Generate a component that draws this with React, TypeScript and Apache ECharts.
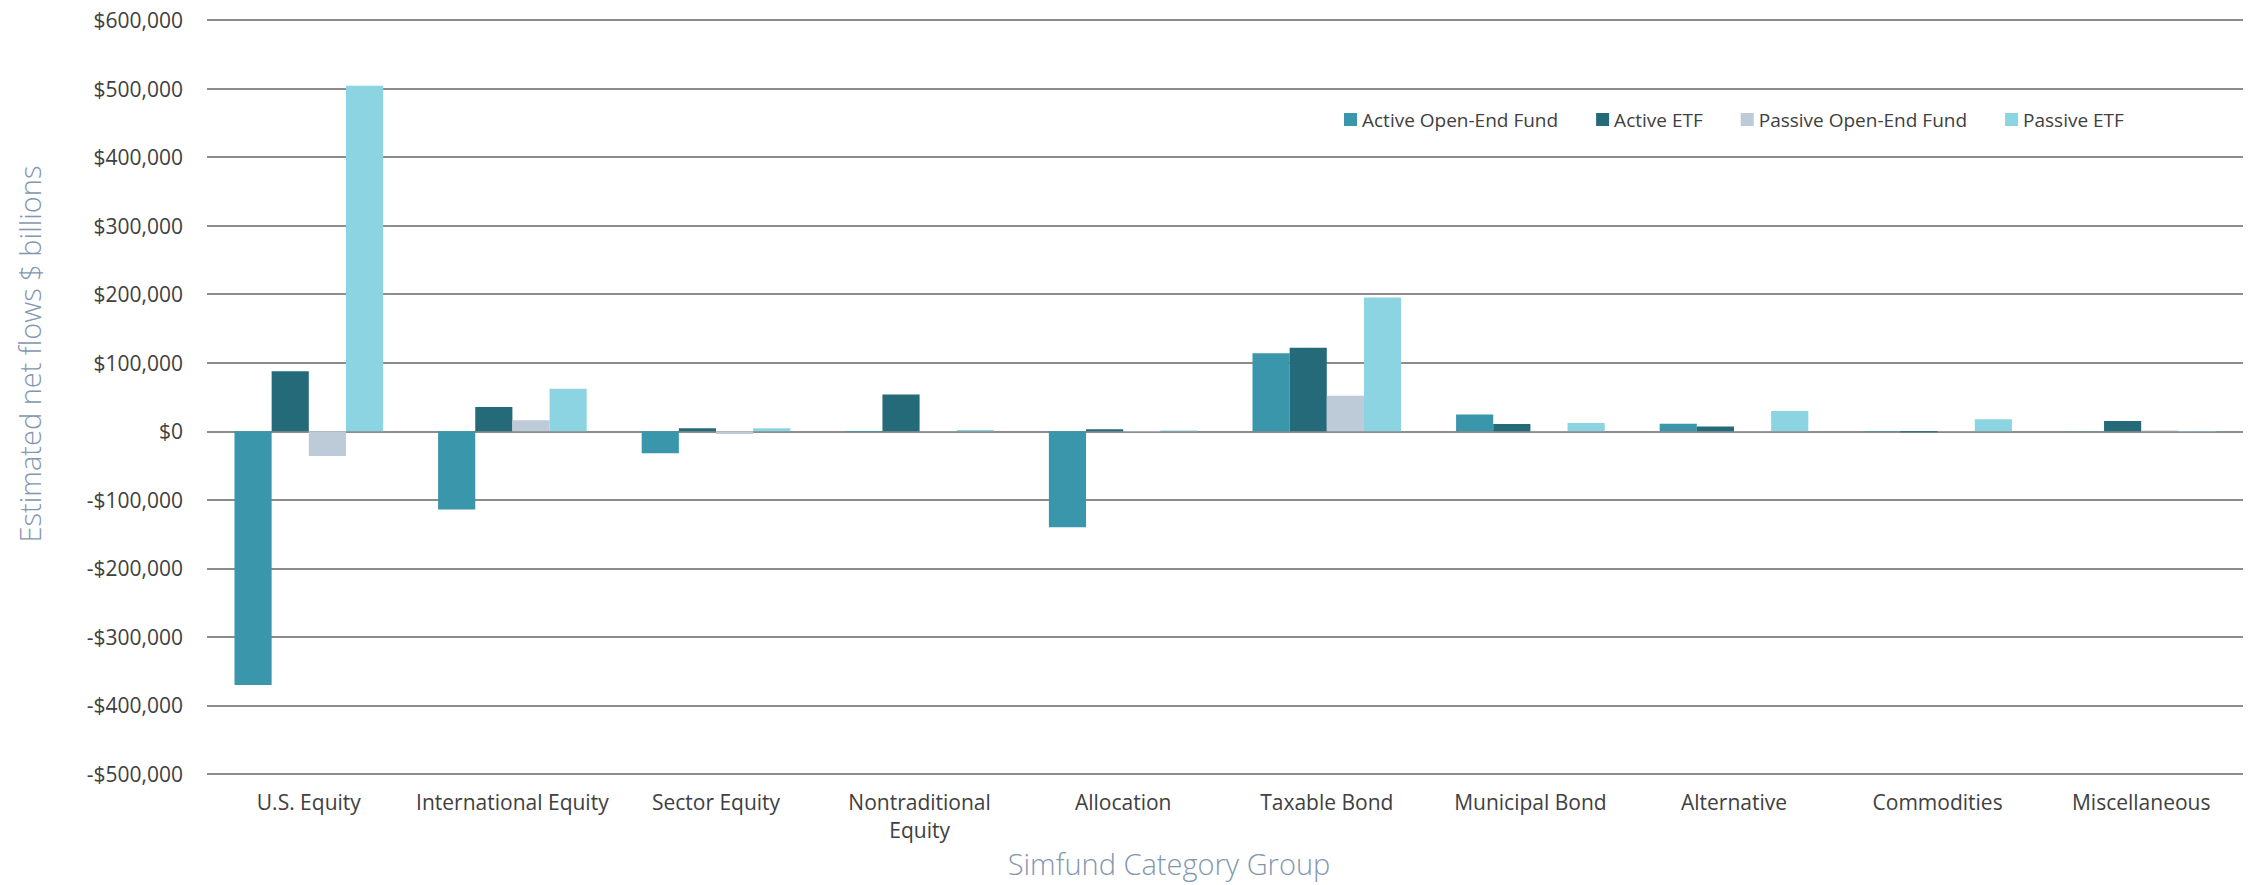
import React, { useEffect, useRef } from "react";
import * as echarts from "echarts";

const categories = [
  "U.S. Equity",
  "International Equity",
  "Sector Equity",
  "Nontraditional Equity",
  "Allocation",
  "Taxable Bond",
  "Municipal Bond",
  "Alternative",
  "Commodities",
  "Miscellaneous",
];

const activeOpenEnd = [-370000, -114000, -32000, -1000, -140000, 114000, 24500, 11000, -800, -500];
const activeETF = [87500, 35500, 4500, 53500, 3000, 122000, 10500, 7000, -1500, 15000];
const passiveOpenEnd = [-36000, 16000, -4000, -500, -800, 52000, -500, -300, -300, 1200];
const passiveETF = [504000, 62000, 4500, 2000, 1200, 195000, 12000, 29500, 17500, -800];

const seriesNames = ["Active Open-End Fund", "Active ETF", "Passive Open-End Fund", "Passive ETF"];
const seriesColors = ["#3996AB", "#246A78", "#BDCAD7", "#8DD4E2"];
const seriesData = [activeOpenEnd, activeETF, passiveOpenEnd, passiveETF];

const yMin = -500000;
const yMax = 600000;
const yInterval = 100000;

const font = "'Open Sans', 'Noto Sans', sans-serif";

function fmtMoney(v: number): string {
  const s = Math.abs(v).toLocaleString("en-US");
  return v < 0 ? "-$" + s : "$" + s;
}

export default function App() {
  const ref = useRef<HTMLDivElement>(null);
  useEffect(() => {
    if (!ref.current) return;
    const chart = echarts.init(ref.current, undefined, { renderer: "svg" });
    chart.setOption({
      animation: false,
      backgroundColor: "#ffffff",
      textStyle: { fontFamily: font },
      grid: { left: 207, right: 11, top: 20, bottom: 111, containLabel: false },
      legend: {
        left: 1344,
        top: 110,
        padding: 0,
        itemWidth: 13,
        itemHeight: 13,
        itemGap: 38,
        icon: "rect",
        textStyle: { fontSize: 19, color: "#404040", fontFamily: font },
        data: seriesNames,
      },
      xAxis: {
        type: "category",
        data: categories,
        name: "Simfund Category Group",
        nameLocation: "middle",
        nameGap: 75,
        nameTextStyle: {
          fontSize: 29,
          color: "#8497B0",
          fontWeight: 300,
          fontFamily: font,
          padding: [0, 112, 0, 0],
        },
        axisLine: { show: false, onZero: false },
        axisTick: { show: false },
        axisLabel: {
          interval: 0,
          fontSize: 21,
          color: "#404040",
          margin: 14,
          lineHeight: 28,
          fontFamily: font,
          formatter: (v: string) => v.replace("Nontraditional ", "Nontraditional\n"),
        },
        splitLine: { show: false },
      },
      yAxis: {
        type: "value",
        min: yMin,
        max: yMax,
        interval: yInterval,
        name: "Estimated net flows $ billions",
        nameLocation: "middle",
        nameGap: 163,
        nameRotate: 90,
        nameTextStyle: {
          fontSize: 29,
          color: "#8497B0",
          fontWeight: 300,
          fontFamily: font,
          padding: [0, 0, 0, 86],
        },
        axisLine: { show: false },
        axisTick: { show: false },
        axisLabel: {
          fontSize: 21,
          color: "#404040",
          margin: 24,
          fontFamily: font,
          formatter: (v: number) => fmtMoney(v),
        },
        splitLine: { show: true, lineStyle: { color: "#8c8c8c", width: 2 } },
      },
      series: seriesNames.map((name, i) => ({
        name,
        type: "bar",
        data: seriesData[i],
        barGap: "0%",
        barCategoryGap: "27%",
        itemStyle: { color: seriesColors[i] },
      })),
    });
    return () => chart.dispose();
  }, []);
  return (
    <div
      ref={ref}
      style={{ position: "absolute", left: 0, top: 0, width: 2254, height: 885 }}
    />
  );
}
